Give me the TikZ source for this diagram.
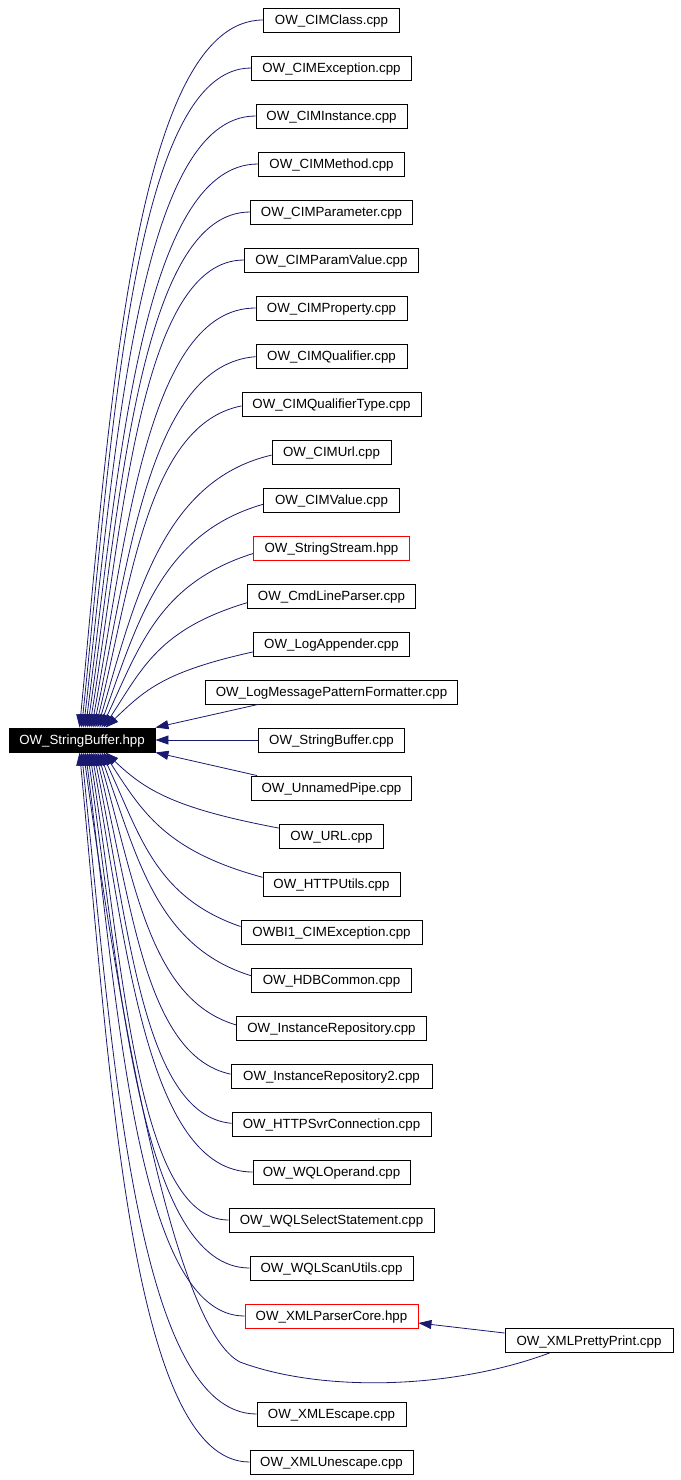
\documentclass[tikz,border=0pt]{standalone}
\usepackage{fontspec}
\setmainfont{Liberation Sans}
\usetikzlibrary{arrows.meta,calc}
\definecolor{edgeblue}{RGB}{25,25,112}
\begin{document}
\begin{tikzpicture}[x=1pt,y=-1pt,
  box/.style={draw=black,line width=0.9pt,minimum height=24pt,inner sep=0pt,text height=9.5pt,text depth=0pt,font=\fontsize{13.3}{16}\selectfont},
  edge/.style={draw=edgeblue,line width=0.8pt,-{Triangle[length=13pt,width=9pt]}}]
\useasboundingbox (0,0) rectangle (680,1480);
\node[box,fill=black,text=white,minimum width=146pt] (main) at (82,740) {OW\_StringBuffer.hpp};
\foreach \i/\y/\w/\txt/\col/\ex/\s in {
 1/20/136/{OW\_CIMClass.cpp}/black/80/1,
 2/68/160/{OW\_CIMException.cpp}/black/82/1,
 3/116/151/{OW\_CIMInstance.cpp}/black/84/1,
 4/164/146/{OW\_CIMMethod.cpp}/black/86/1,
 5/212/162/{OW\_CIMParameter.cpp}/black/88/1,
 6/260/174/{OW\_CIMParamValue.cpp}/black/90/1,
 7/308/151/{OW\_CIMProperty.cpp}/black/92/1,
 8/356/151/{OW\_CIMQualifier.cpp}/black/94/1,
 9/404/179/{OW\_CIMQualifierType.cpp}/black/96/1,
 10/452/119/{OW\_CIMUrl.cpp}/black/98/1,
 11/500/136/{OW\_CIMValue.cpp}/black/100/1,
 12/548/156/{OW\_StringStream.hpp}/red/102/1,
 13/596/168/{OW\_CmdLineParser.cpp}/black/104/1,
 14/644/156/{OW\_LogAppender.cpp}/black/106/1,
 15/692/252/{OW\_LogMessagePatternFormatter.cpp}/black/0/0,
 16/740/146/{OW\_StringBuffer.cpp}/black/0/0,
 17/788/160/{OW\_UnnamedPipe.cpp}/black/0/0,
 18/836/104/{OW\_URL.cpp}/black/106/-1,
 19/884/137/{OW\_HTTPUtils.cpp}/black/104/-1,
 20/932/181/{OWBI1\_CIMException.cpp}/black/102/-1,
 21/980/160/{OW\_HDBCommon.cpp}/black/100/-1,
 22/1028/190/{OW\_InstanceRepository.cpp}/black/98/-1,
 23/1076/201/{OW\_InstanceRepository2.cpp}/black/96/-1,
 24/1124/199/{OW\_HTTPSvrConnection.cpp}/black/94/-1,
 25/1172/157/{OW\_WQLOperand.cpp}/black/92/-1,
 26/1220/205/{OW\_WQLSelectStatement.cpp}/black/90/-1,
 27/1268/163/{OW\_WQLScanUtils.cpp}/black/88/-1,
 28/1316/173/{OW\_XMLParserCore.hpp}/red/86/-1,
 30/1414/149/{OW\_XMLEscape.cpp}/black/82/-1,
 31/1462/163/{OW\_XMLUnescape.cpp}/black/80/-1}{
  \node[box,draw=\col,minimum width=\w pt] (n\i) at (331.5,\y) {\txt};
  \ifnum\s=0\relax\else
    \pgfmathsetmacro\myxl{331.5-\w/2}
    \ifnum\s=1
      \pgfmathsetmacro\myd{728-\y}
      \pgfmathsetmacro\myend{728}
    \else
      \pgfmathsetmacro\myd{\y-752}
      \pgfmathsetmacro\myend{752}
    \fi
    \pgfmathsetmacro\myo{max(0,10*(1-\myd/400))}
    \pgfmathsetmacro\myb{max(0,0.3*(1-\myd/400))}
    \pgfmathsetmacro\mya{0.6+0.1*\myd/700}
    \pgfmathsetmacro\myc{40-10*\myd/700}
    \pgfmathsetmacro\mypzy{\y+\s*\myo}
    \pgfmathsetmacro\mypax{\myxl-\mya*(\myxl-\ex)}
    \pgfmathsetmacro\mypay{\mypzy+\s*\myb*\myd}
    \pgfmathsetmacro\mypbx{\ex+\myc}
    \pgfmathsetmacro\mypby{\myend-\s*0.45*\myd}
    \ifnum\s=1
      \draw[edge] ($(n\i.west)+(0,\myo)$) .. controls (\mypax,\mypay) and (\mypbx,\mypby) .. ($(main.north west)+({\ex-9},0)$);
    \else
      \draw[edge] ($(n\i.west)+(0,-\myo)$) .. controls (\mypax,\mypay) and (\mypbx,\mypby) .. ($(main.south west)+({\ex-9},0)$);
    \fi
  \fi
}
\node[box,minimum width=168pt] (pp) at (589,1340.5) {OW\_XMLPrettyPrint.cpp};
\draw[edge] ($(n15.south west)+(53,0)$) -- (main.north east);
\draw[edge] (n16.west) -- (main.east);
\draw[edge] ($(n17.north west)+(6,0)$) -- (main.south east);
\draw[edge] ($(pp.west)+(0,-7.5)$) -- ($(n28.east)+(0,7)$);
\draw[edge] ($(pp.south west)+(45,0)$) .. controls (450,1390) and (320,1392) .. (240,1362)
  .. controls (178,1330) and (124,1050) .. ($(main.south west)+(75,0)$);
\end{tikzpicture}
\end{document}
